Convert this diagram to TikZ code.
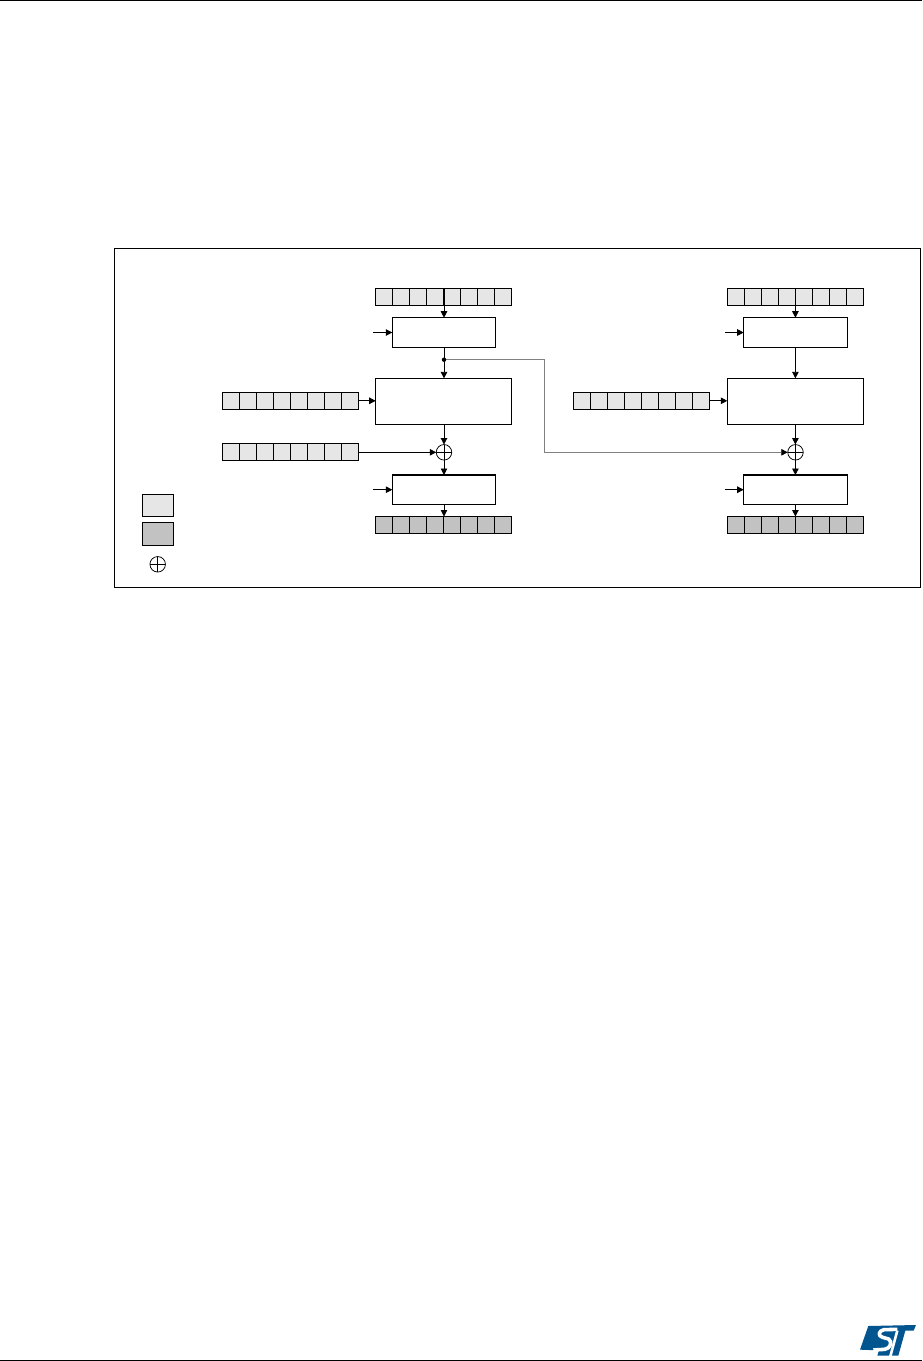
\documentclass[tikz,border=0pt]{standalone}
\usetikzlibrary{arrows.meta}
\definecolor{lightreg}{HTML}{E6E6E6}
\definecolor{darkreg}{HTML}{C2C2C2}
\definecolor{stblue}{HTML}{03558F}
\definecolor{greyline}{HTML}{808080}
\tikzset{
  reg/.style={draw=black,line width=0.95pt,fill=lightreg,minimum width=17pt,minimum height=17pt,inner sep=0pt,outer sep=0pt},
  regdark/.style={reg,fill=darkreg},
  block/.style={draw=black,line width=1.1pt,fill=white,inner sep=0pt,outer sep=0pt},
  xorop/.style={circle,draw=black,line width=0.75pt,minimum size=15.5pt,inner sep=0pt,outer sep=0pt,path picture={
    \draw[line width=0.75pt] (path picture bounding box.north)--(path picture bounding box.south)
      (path picture bounding box.west)--(path picture bounding box.east);}},
  conn/.style={draw=black,line width=0.85pt,-{Triangle[length=6.5pt,width=6.5pt]}},
  greyconn/.style={draw=greyline,line width=0.85pt,-{Triangle[length=6.5pt,width=6.5pt,black]}},
}
\newcommand{\regrow}[4]{% name, left x, centre y, style
  \foreach \i in {1,...,8}{
    \node[#4,anchor=west] (#1\i) at ({#2+(\i-1)*17},#3) {};
  }
  \coordinate (#1w) at (#2,#3);
  \coordinate (#1e) at ({#2+136},#3);
  \coordinate (#1n) at ({#2+68},{#3-8.5});
  \coordinate (#1s) at ({#2+68},{#3+8.5});
}
\begin{document}
\begin{tikzpicture}[x=1pt,y=-1pt]
\useasboundingbox (0,0) rectangle (922,1361);
\fill[white] (0,0) rectangle (922,1361);
% page rules
\coordinate (ruleTL) at (0,0.5); \coordinate (ruleTR) at (922,0.5);
\coordinate (ruleBL) at (0,1360); \coordinate (ruleBR) at (922,1360);
\draw[line width=0.9pt] (ruleTL)--(ruleTR);
\draw[line width=0.9pt] (ruleBL)--(ruleBR);
% frame
\node[draw=black,line width=0.8pt,minimum width=806pt,minimum height=339pt,inner sep=0pt,outer sep=0pt,anchor=north west] (frame) at (114.3,248) {};
% left column
\regrow{ta}{375.7}{296.8}{reg}
\node[block,minimum width=103.4pt,minimum height=29.6pt] (ba) at (444,332.5) {};
\node[block,minimum width=135.6pt,minimum height=45.7pt] (ca) at (443.5,401.2) {};
\regrow{ka}{222.5}{400.8}{reg}
\regrow{ia}{222.5}{452.3}{reg}
\node[xorop] (xa) at (444,452.3) {};
\node[block,minimum width=103.4pt,minimum height=29.4pt] (da) at (444,489.7) {};
\regrow{oa}{375.7}{525}{regdark}
% right column
\regrow{tb}{727.3}{296.8}{reg}
\node[block,minimum width=103.4pt,minimum height=29.6pt] (bb) at (795.4,332.5) {};
\node[block,minimum width=136pt,minimum height=45.7pt] (cb) at (795.3,401.2) {};
\regrow{kb}{573.5}{400.8}{reg}
\node[xorop] (xb) at (795.5,452.3) {};
\node[block,minimum width=103.4pt,minimum height=29.4pt] (db) at (795.4,489.7) {};
\regrow{ob}{727.3}{525}{regdark}
% connectors left
\draw[conn] (tan -| ba.north) -- (ba.north);
\coordinate (split) at (444,359.7);
\draw[draw=black,line width=0.85pt] (ba.south) -- (split);
\draw[conn] (split) -- (split |- ca.north);
\draw[conn] (kae) -- (kae -| ca.west);
\draw[conn] (ca.south -| xa) -- (xa.north);
\draw[conn] (iae) -- (xa.west);
\draw[conn] (xa.south) -- (da.north);
\draw[conn] (da.south) -- (da.south |- oan);
\coordinate (ina) at (373.3,332.5);
\coordinate (ind) at (373.3,489.7);
\draw[conn] (ina) -- (ba.west);
\draw[conn] (ind) -- (da.west);
% connectors right
\draw[conn] (tbn -| bb.north) -- (bb.north);
\draw[conn] (bb.south) -- (bb.south |- cb.north);
\draw[conn] (kbe) -- (kbe -| cb.west);
\draw[conn] (bb.south |- cb.south) -- (bb.south |- xb.north);
\draw[conn] (bb.south |- xb.south) -- (db.north);
\draw[conn] (db.south) -- (db.south |- obn);
\coordinate (inb) at (725,332.5);
\coordinate (ine) at (725,489.7);
\draw[conn] (inb) -- (bb.west);
\draw[conn] (ine) -- (db.west);
% grey link
\coordinate (corner1) at (544.8,359.7);
\coordinate (corner2) at (544.8,452.3);
\draw[greyconn] (split) -- (corner1) -- (corner2) -- (xb.west);
\fill (split) circle (2.2pt);
% legend
\node[draw=black,line width=0.8pt,fill=lightreg,minimum width=31pt,minimum height=22.4pt,inner sep=0pt,outer sep=0pt,anchor=north west] (lega) at (142.3,494.3) {};
\node[draw=black,line width=0.8pt,fill=darkreg,minimum width=31pt,minimum height=23.4pt,inner sep=0pt,outer sep=0pt,anchor=north west] (legb) at (142.3,522.3) {};
\node[xorop] (legc) at (157.7,564.3) {};
% logo
\begin{scope}[shift={(780,1290)},x=0.3333pt,y=-0.3333pt]
  \fill[stblue] (265,108) -- (408,105) -- (401,122) -- (376,122) -- (355,197) -- (292,197) -- (297,181) -- (240,179) -- cycle;
  \draw[white,line width=3.6pt,line join=round] (352,118) -- (312,119) .. controls (296,122) and (292,138) .. (308,142) -- (326,147) .. controls (338,154) and (332,176) .. (314,178) -- (280,180);
  \draw[white,line width=2.6pt] (352,122) -- (331,199);
\end{scope}
\end{tikzpicture}
\end{document}
